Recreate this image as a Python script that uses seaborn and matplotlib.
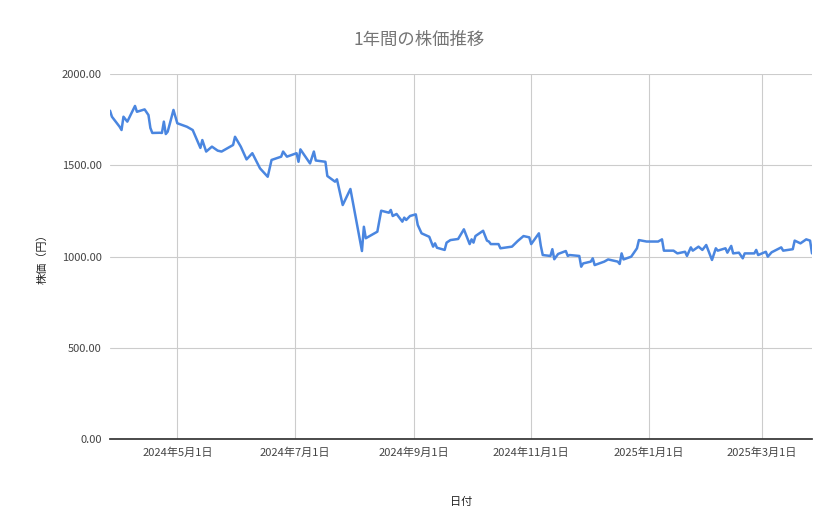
import matplotlib
matplotlib.use("Agg")
import matplotlib.pyplot as plt
import seaborn as sns
import pandas as pd

dates = ["2024-03-27","2024-03-28","2024-04-01","2024-04-02","2024-04-03","2024-04-05","2024-04-09","2024-04-10",
"2024-04-14","2024-04-16","2024-04-17","2024-04-18","2024-04-22","2024-04-23","2024-04-24","2024-04-25","2024-04-26",
"2024-04-29","2024-05-01","2024-05-06","2024-05-09","2024-05-13","2024-05-14","2024-05-16","2024-05-19","2024-05-22",
"2024-05-24","2024-05-30","2024-05-31","2024-06-03","2024-06-06","2024-06-09","2024-06-13","2024-06-17","2024-06-19",
"2024-06-24","2024-06-25","2024-06-27","2024-07-02","2024-07-03","2024-07-04","2024-07-09","2024-07-11","2024-07-12",
"2024-07-17","2024-07-18","2024-07-22","2024-07-23","2024-07-26","2024-07-30","2024-08-05","2024-08-06","2024-08-07",
"2024-08-13","2024-08-15","2024-08-19","2024-08-20","2024-08-21","2024-08-23","2024-08-26","2024-08-27","2024-08-28",
"2024-08-30","2024-09-02","2024-09-03","2024-09-05","2024-09-09","2024-09-11","2024-09-12","2024-09-13","2024-09-17",
"2024-09-18","2024-09-20","2024-09-24","2024-09-27","2024-09-30","2024-10-01","2024-10-02","2024-10-03","2024-10-07",
"2024-10-09","2024-10-10","2024-10-11","2024-10-15","2024-10-16","2024-10-22","2024-10-25","2024-10-28","2024-10-31",
"2024-11-01","2024-11-05","2024-11-06","2024-11-07","2024-11-11","2024-11-12","2024-11-13","2024-11-15","2024-11-19",
"2024-11-20","2024-11-21","2024-11-26","2024-11-27","2024-11-28","2024-12-02","2024-12-03","2024-12-04",
"2024-12-09","2024-12-11","2024-12-16","2024-12-17","2024-12-18","2024-12-19","2024-12-23","2024-12-26","2024-12-27",
"2024-12-31","2025-01-06","2025-01-08","2025-01-09","2025-01-14","2025-01-16","2025-01-20","2025-01-21","2025-01-23",
"2025-01-24","2025-01-27","2025-01-29","2025-01-31","2025-02-03","2025-02-05","2025-02-06","2025-02-10","2025-02-11",
"2025-02-13","2025-02-14","2025-02-17","2025-02-19","2025-02-20","2025-02-25","2025-02-26","2025-02-27","2025-03-03",
"2025-03-04","2025-03-06","2025-03-11","2025-03-12","2025-03-17","2025-03-18","2025-03-21","2025-03-24","2025-03-26",
"2025-03-27"]
prices = [1799,1766,1711,1693,1766,1739,1825,1793,1806,1775,1704,1677,1678,1677,1739,1671,1684,1803,1730,1711,1693,
1595,1638,1575,1602,1580,1575,1611,1656,1602,1532,1566,1483,1437,1529,1547,1575,1547,1566,1519,1587,1510,1575,1526,
1519,1441,1410,1423,1282,1370,1030,1163,1100,1136,1251,1240,1255,1222,1233,1191,1213,1200,1222,1231,1173,1127,1108,
1054,1072,1048,1036,1076,1090,1096,1149,1068,1094,1076,1112,1141,1087,1082,1068,1068,1045,1054,1085,1112,1105,1068,
1127,1058,1008,1003,1040,985,1014,1030,1003,1008,1003,944,962,972,990,953,972,984,972,959,1017,984,999,1045,1090,1082,
1082,1094,1032,1032,1017,1026,1003,1050,1032,1054,1036,1063,981,1045,1032,1045,1021,1058,1017,1021,990,1017,1017,1036,
1008,1026,999,1023,1050,1032,1040,1087,1072,1094,1087,1017]

tick_dates = ["2024-05-01","2024-07-01","2024-09-01","2024-11-01","2025-01-01","2025-03-01"]
tick_labels = ["2024年5月1日","2024年7月1日","2024年9月1日","2024年11月1日","2025年1月1日","2025年3月1日"]
y_ticks = [0, 500, 1000, 1500, 2000]

df = pd.DataFrame({"date": pd.to_datetime(dates), "price": prices})

sns.set_theme(style="white")
plt.rcParams['font.family'] = ['Noto Sans CJK JP', 'DejaVu Sans']

fig = plt.figure(figsize=(8.39, 5.19), dpi=100)
ax = fig.add_axes([110/839, 1-439/519, (812-110)/839, (439-74)/519])
sns.lineplot(data=df, x="date", y="price", ax=ax, color="#4a86e0", linewidth=1.8)

ax.set_xlim(pd.Timestamp("2024-03-27"), pd.Timestamp("2025-03-27"))
ax.set_ylim(0, 2000)
ax.set_yticks(y_ticks)
ax.set_yticklabels([f"{v:.2f}" for v in y_ticks])
ax.set_xticks(pd.to_datetime(tick_dates))
ax.set_xticklabels(tick_labels)
ax.grid(True, color="#cccccc", linewidth=0.8)
for s in ["top", "right", "left"]:
    ax.spines[s].set_visible(False)
ax.spines["bottom"].set_color("#333333")
ax.tick_params(axis="both", length=0, labelsize=8, colors="#444444", pad=6)
ax.set_xlabel("日付", fontsize=8, color="#222222", labelpad=28)
ax.set_ylabel("株価（円）", fontsize=8, color="#222222", labelpad=10)
fig.text(0.5, 1-40/519, "1年間の株価推移", ha="center", va="center", fontsize=12.5, color="#757575")
fig.savefig("out.png", dpi=100)
